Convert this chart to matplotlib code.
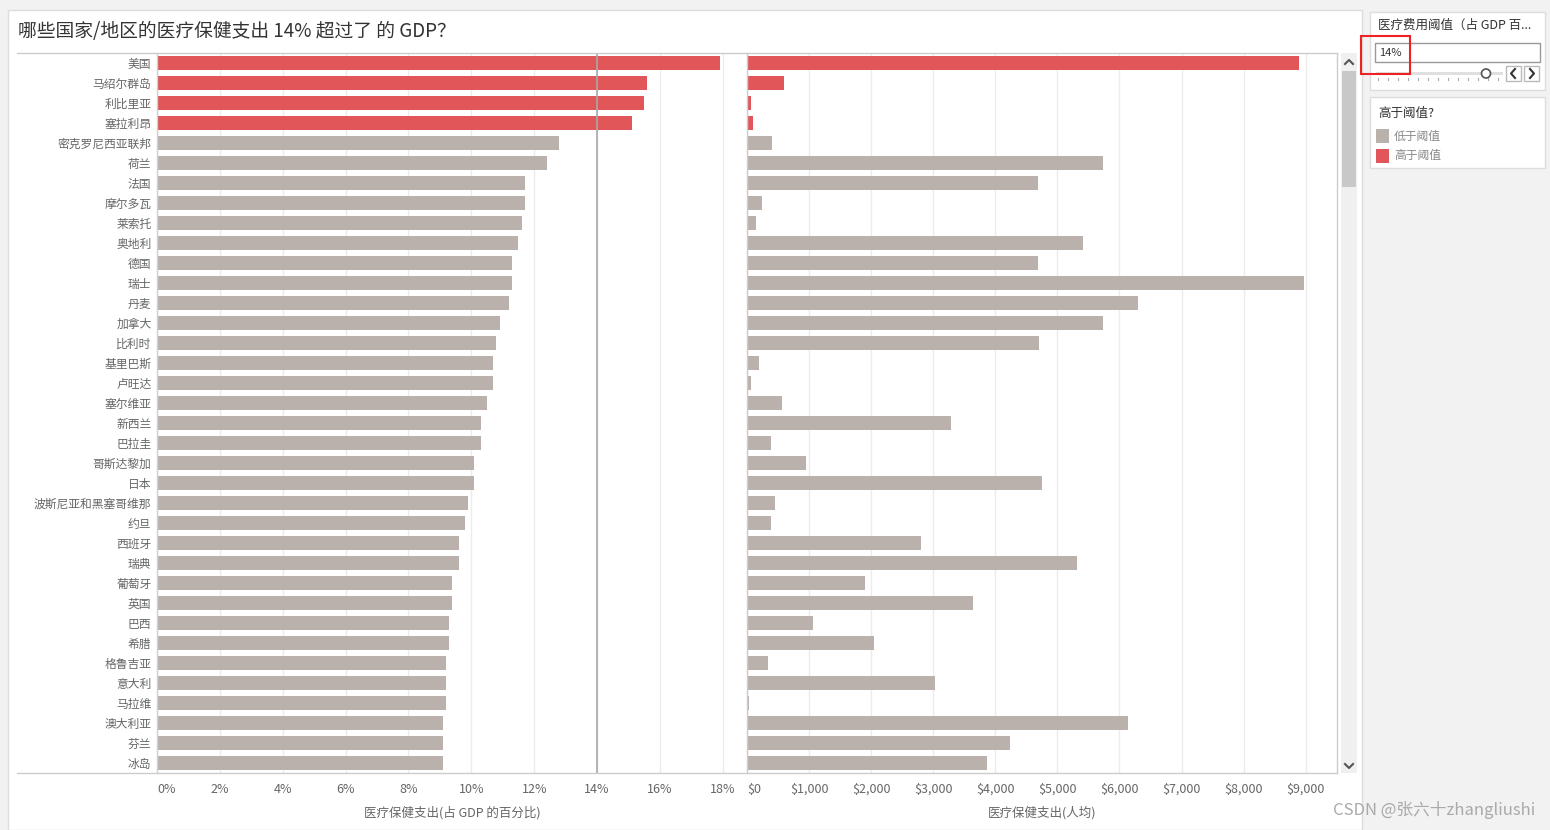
import matplotlib
matplotlib.use("Agg")
import matplotlib.pyplot as plt
from matplotlib.patches import Rectangle, Ellipse
from matplotlib.lines import Line2D

plt.rcParams['font.family'] = ['Noto Sans CJK SC', 'DejaVu Sans']

# data
countries = ["美国", "马绍尔群岛", "利比里亚", "塞拉利昂", "密克罗尼西亚联邦", "荷兰", "法国",
             "摩尔多瓦", "莱索托", "奥地利", "德国", "瑞士", "丹麦", "加拿大", "比利时", "基里巴斯",
             "卢旺达", "塞尔维亚", "新西兰", "巴拉圭", "哥斯达黎加", "日本", "波斯尼亚和黑塞哥维那",
             "约旦", "西班牙", "瑞典", "葡萄牙", "英国", "巴西", "希腊", "格鲁吉亚", "意大利",
             "马拉维", "澳大利亚", "芬兰", "冰岛"]
pct_gdp = [17.9, 15.6, 15.5, 15.1, 12.8, 12.4, 11.7, 11.7, 11.6, 11.5, 11.3, 11.3, 11.2,
           10.9, 10.8, 10.7, 10.7, 10.5, 10.3, 10.3, 10.1, 10.1, 9.9, 9.8, 9.6, 9.6, 9.4,
           9.4, 9.3, 9.3, 9.2, 9.2, 9.2, 9.1, 9.1, 9.1]
per_capita = [8892, 592, 60, 92, 398, 5733, 4686, 237, 140, 5410, 4686, 8972, 6298, 5733,
              4702, 189, 60, 559, 3283, 382, 946, 4750, 447, 382, 2800, 5313, 1897, 3637,
              1059, 2042, 334, 3025, 27, 6135, 4234, 3863]
threshold = 14
pct_ticks = [0, 2, 4, 6, 8, 10, 12, 14, 16, 18]
usd_ticks = [0, 1000, 2000, 3000, 4000, 5000, 6000, 7000, 8000, 9000]

RED = "#E15759"
GREY = "#BAB0AC"
TXT = "#666666"

W, H = 1550, 830
fig = plt.figure(figsize=(W / 100, H / 100), dpi=100)
fig.patch.set_facecolor("#f2f2f2")


def box(x0, y0, x1, y1):
    return [x0 / W, 1 - y1 / H, (x1 - x0) / W, (y1 - y0) / H]


def fx(x):
    return x / W


def fy(y):
    return 1 - y / H


def rect(x0, y0, x1, y1, fc, ec="none", lw=1, z=0):
    fig.patches.append(Rectangle((fx(x0), fy(y1)), (x1 - x0) / W, (y1 - y0) / H,
                                 transform=fig.transFigure, facecolor=fc, edgecolor=ec,
                                 linewidth=lw, zorder=z))


def line(xs, ys, color, lw=1, z=5):
    fig.lines.append(Line2D([fx(x) for x in xs], [fy(y) for y in ys],
                            transform=fig.transFigure, color=color, linewidth=lw, zorder=z))


# worksheet background panels
rect(8, 10, 1362, 830, "white", "#dddddd", z=-5)
rect(1370, 12, 1545, 90, "white", "#dddddd", z=-5)
rect(1370, 97, 1545, 168, "white", "#dddddd", z=-5)

colors = [RED if v > threshold else GREY for v in pct_gdp]
ypos = list(range(len(countries)))

axL = fig.add_axes(box(157, 53, 747, 773), zorder=2)
axR = fig.add_axes(box(747, 53, 1337, 773), zorder=2)

axL.barh(ypos, pct_gdp, height=0.72, color=colors, zorder=3)
axR.barh(ypos, per_capita, height=0.72, color=colors, zorder=3)

for ax in (axL, axR):
    ax.set_ylim(len(countries) - 0.5, -0.5)
    ax.set_facecolor("none")
    for s in ax.spines.values():
        s.set_visible(False)
    ax.tick_params(axis="x", length=0, pad=7, labelsize=9, labelcolor=TXT)
    ax.grid(axis="x", color="#ececec", linewidth=1, zorder=0)
    ax.set_axisbelow(True)

axL.set_xlim(0, 18.77)
axL.set_xticks(pct_ticks)
axL.set_xticklabels([f"{t}%" for t in pct_ticks])
axL.get_xticklabels()[0].set_horizontalalignment("left")
axL.set_yticks(ypos)
axL.set_yticklabels(countries)
axL.tick_params(axis="y", length=0, pad=4, labelsize=8.5, labelcolor=TXT)
axL.axvline(threshold, color="#a8a8a8", linewidth=1.2, zorder=4)

axR.set_xlim(0, 9505)
axR.set_xticks(usd_ticks)
axR.set_xticklabels([f"${t:,}" for t in usd_ticks])
axR.get_xticklabels()[0].set_horizontalalignment("left")
axR.set_yticks([])

# frame lines
line([17, 1337], [53, 53], "#cccccc")
line([17, 1337], [773, 773], "#cccccc")
line([1337, 1337], [53, 773], "#cccccc")
line([157, 157], [53, 773], "#d0d0d0")
line([747, 747], [53, 773], "#cccccc")

# title and axis titles
fig.text(fx(18), fy(31), "哪些国家/地区的医疗保健支出 14% 超过了 的 GDP？", fontsize=13.5,
         color="#333333", va="center", ha="left")
fig.text(fx(452), fy(813), "医疗保健支出(占 GDP 的百分比)", fontsize=9, color=TXT,
         ha="center", va="center")
fig.text(fx(1042), fy(813), "医疗保健支出(人均)", fontsize=9, color=TXT,
         ha="center", va="center")

# scrollbar
rect(1341, 53, 1357, 773, "#f0f0f0", z=1)
rect(1342, 71, 1356, 187, "#c8c8c8", z=2)
line([1345, 1349, 1353], [64, 60, 64], "#555555", lw=1.5)
line([1345, 1349, 1353], [764, 768, 764], "#555555", lw=1.5)

# parameter control
fig.text(fx(1378), fy(25), "医疗费用阈值（占 GDP 百...", fontsize=9, color="#333333",
         va="center", ha="left")
rect(1375, 43, 1540, 62, "white", "#999999")
fig.text(fx(1379), fy(53), "14%", fontsize=8, color="#333333", va="center", ha="left")
rect(1376, 72, 1503, 75, "#e0e0e0", z=1)
for tx in range(1378, 1500, 10):
    line([tx, tx], [78, 80], "#aaaaaa", lw=0.8)
fig.patches.append(Ellipse((fx(1486), fy(73.5)), 9 / W, 9 / H, transform=fig.transFigure,
                           facecolor="white", edgecolor="#555555", linewidth=1.2, zorder=6))
rect(1506, 66, 1521, 81, "white", "#bbbbbb")
rect(1524, 66, 1539, 81, "white", "#bbbbbb")
line([1515, 1511, 1515], [69, 73.5, 78], "#333333", lw=1.5)
line([1530, 1534, 1530], [69, 73.5, 78], "#333333", lw=1.5)
rect(1361, 36, 1410, 74, "none", "#ee2222", lw=1.5, z=7)

# legend
fig.text(fx(1378), fy(113), "高于阈值?", fontsize=9, color="#333333", va="center", ha="left")
rect(1376, 129, 1389, 143, GREY, z=2)
rect(1376, 149, 1389, 163, RED, z=2)
fig.text(fx(1394), fy(136), "低于阈值", fontsize=8.5, color="#888888", va="center", ha="left")
fig.text(fx(1394), fy(156), "高于阈值", fontsize=8.5, color="#888888", va="center", ha="left")

# watermark
fig.text(fx(1535), fy(810), "CSDN @张六十zhangliushi", fontsize=12, color="#aaaaaa",
         va="center", ha="right")

fig.savefig("out.png", dpi=100, facecolor=fig.get_facecolor())
